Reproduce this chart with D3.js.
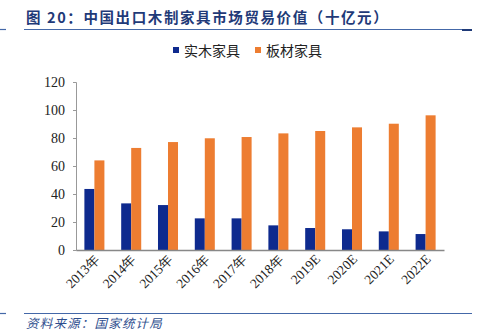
<!DOCTYPE html>
<html>
<head>
<meta charset="utf-8">
<script src="https://cdn.jsdelivr.net/npm/d3@7"></script>
<style>
  html, body { margin: 0; padding: 0; background: #fff; }
  svg { display: block; }
</style>
</head>
<body>
<svg id="chart" width="478" height="336"></svg>
<script>
const categories = ["2013年","2014年","2015年","2016年","2017年","2018年","2019E","2020E","2021E","2022E"];
const seriesNames = ["实木家具","板材家具"];
const solidWood = [43.6, 33.3, 32.1, 22.6, 22.6, 17.6, 15.7, 14.8, 13.3, 11.4];
const panel = [64.0, 72.9, 77.1, 79.8, 80.7, 83.3, 85.0, 87.6, 90.2, 96.2];
const yTicks = [0, 20, 40, 60, 80, 100, 120];
const colors = ["#0E2A8E", "#ED7D31"];

const svg = d3.select("#chart");
const serif = "'Liberation Serif','Times New Roman',serif";
const cjk = "'Noto Sans CJK SC','Noto Sans',sans-serif";

// title
svg.append("text").attr("x", 26).attr("y", 23)
  .attr("font-family", cjk).attr("font-weight", "bold").attr("font-size", 14.5)
  .attr("letter-spacing", 1.6).attr("fill", "#1F3A78")
  .text("图 20：中国出口木制家具市场贸易价值（十亿元）");
// header lines
svg.append("line").attr("x1", 0).attr("x2", 6).attr("y1", 29.5).attr("y2", 29.5).attr("stroke", "#4468A8").attr("stroke-width", 1.2);
svg.append("line").attr("x1", 24).attr("x2", 472).attr("y1", 29.5).attr("y2", 29.5).attr("stroke", "#4468A8").attr("stroke-width", 1.2);
svg.append("line").attr("x1", 462).attr("x2", 472).attr("y1", 30).attr("y2", 30).attr("stroke", "#1F3A78").attr("stroke-width", 2);

// footer
svg.append("line").attr("x1", 0).attr("x2", 6).attr("y1", 313.5).attr("y2", 313.5).attr("stroke", "#4468A8").attr("stroke-width", 1.2);
svg.append("line").attr("x1", 24).attr("x2", 472).attr("y1", 313.5).attr("y2", 313.5).attr("stroke", "#4468A8").attr("stroke-width", 1.2);
svg.append("text").attr("x", 26).attr("y", 328)
  .attr("font-family", cjk).attr("font-style", "italic").attr("font-size", 12.5)
  .attr("letter-spacing", 1.2).attr("fill", "#2E4E8E")
  .text("资料来源：国家统计局");

// scales
const x = d3.scaleBand().domain(categories).range([76, 444]).paddingInner(0.456).paddingOuter(0.228);
const xs = d3.scaleBand().domain(seriesNames).range([0, x.bandwidth()]);
const y = d3.scaleLinear().domain([0, 120]).range([250, 82]);

// y axis
const yAxis = svg.append("g").attr("transform", "translate(76,0)")
  .call(d3.axisLeft(y).tickValues(yTicks).tickSize(3).tickPadding(8));
yAxis.select(".domain").attr("stroke", "#999");
yAxis.selectAll(".tick line").attr("stroke", "#999");
yAxis.selectAll("text").attr("font-family", serif).attr("font-size", 14).attr("fill", "#222");

// bars
const data = [solidWood, panel];
data.forEach((vals, si) => {
  svg.append("g").selectAll("rect").data(vals).join("rect")
    .attr("x", (d, i) => x(categories[i]) + xs(seriesNames[si]))
    .attr("width", xs.bandwidth())
    .attr("y", d => y(d))
    .attr("height", d => y(0) - y(d))
    .attr("fill", colors[si]);
});

// x axis
const xAxis = svg.append("g").attr("transform", "translate(0,250)")
  .call(d3.axisBottom(x).tickSize(0).tickSizeOuter(0).tickPadding(0));
xAxis.select(".domain").attr("stroke", "#888").attr("stroke-width", 1.5);
xAxis.selectAll("text")
  .attr("font-family", serif).attr("font-size", 13.5).attr("fill", "#222")
  .attr("text-anchor", "end").attr("dy", 0).attr("y", 0)
  .attr("transform", "translate(6,10) rotate(-45)");

// legend
const legend = svg.append("g");
const lx = [173, 255];
seriesNames.forEach((n, i) => {
  legend.append("rect").attr("x", lx[i]).attr("y", 47).attr("width", 6).attr("height", 6).attr("fill", colors[i]);
  legend.append("text").attr("x", lx[i] + 11).attr("y", 55.5)
    .attr("font-family", cjk).attr("font-size", 14).attr("fill", "#222").text(n);
});
</script>
</body>
</html>
